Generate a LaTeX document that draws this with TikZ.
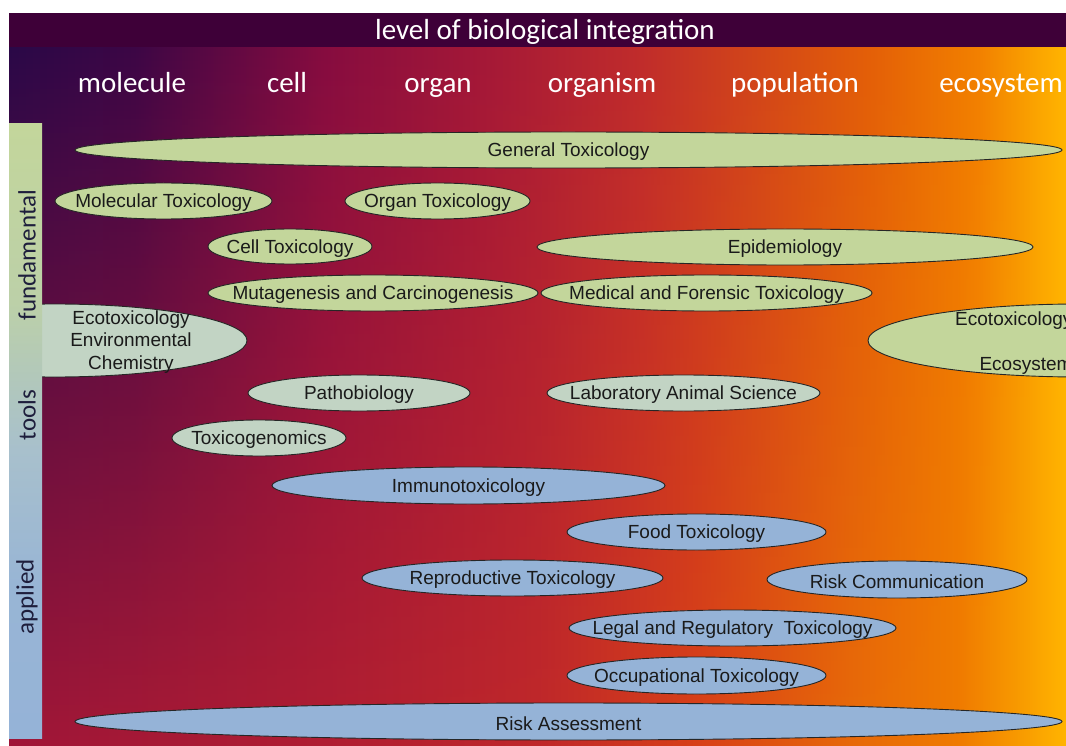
\documentclass[tikz,border=0pt]{standalone}
\usepackage{fontspec}
\setmainfont{Liberation Sans}
\newfontfamily\hdrfont{Carlito}
\usetikzlibrary{shapes.geometric,fadings}

\definecolor{bandpurple}{HTML}{3E0038}
\definecolor{fundgreen}{HTML}{C3D69B}
\definecolor{toolgray}{HTML}{C2D4C4}
\definecolor{applblue}{HTML}{95B3D7}
\definecolor{txtdark}{HTML}{1A1A1A}
\definecolor{sidetext}{HTML}{1E1E3C}
% top row of the background
\definecolor{tA}{HTML}{2A0848}
\definecolor{tB}{HTML}{3C0646}
\definecolor{tC}{HTML}{860C40}
\definecolor{tD}{HTML}{A41838}
\definecolor{tE}{HTML}{C02C2C}
\definecolor{tF}{HTML}{D44818}
\definecolor{tG}{HTML}{E46008}
\definecolor{tH}{HTML}{F28000}
\definecolor{tI}{HTML}{F89A00}
\definecolor{tJ}{HTML}{FFB400}
% bottom row of the background
\definecolor{bA}{HTML}{A01638}
\definecolor{bB}{HTML}{B01E32}
\definecolor{bC}{HTML}{C0282A}
\definecolor{bD}{HTML}{D84018}
\definecolor{bE}{HTML}{E86A08}
\definecolor{bF}{HTML}{F07C00}
\definecolor{bG}{HTML}{F89800}
\definecolor{bH}{HTML}{FFB400}
% side bar
\definecolor{sA}{HTML}{95B3D7}
\definecolor{sB}{HTML}{98B5D5}
\definecolor{sC}{HTML}{A8C0CC}
\definecolor{sD}{HTML}{BCD0A8}

% the path is fitted to 25bp..75bp of a shading
\pgfdeclarehorizontalshading{toprow}{100bp}{color(0bp)=(tA); color(25bp)=(tA);
  color(31bp)=(tB); color(40bp)=(tC); color(47.5bp)=(tD); color(55bp)=(tE);
  color(61bp)=(tF); color(66bp)=(tG); color(71bp)=(tH); color(73bp)=(tI);
  color(75bp)=(tJ); color(100bp)=(tJ)}
\pgfdeclarehorizontalshading{botrow}{100bp}{color(0bp)=(bA); color(25bp)=(bA);
  color(40bp)=(bB); color(50bp)=(bC); color(57.5bp)=(bD); color(65bp)=(bE);
  color(70bp)=(bF); color(72.5bp)=(bG); color(75bp)=(bH); color(100bp)=(bH)}
\pgfdeclareverticalshading{barshade}{100bp}{color(0bp)=(sA); color(25bp)=(sA);
  color(37.5bp)=(sB); color(48.5bp)=(sC); color(60.5bp)=(sD);
  color(75bp)=(fundgreen); color(100bp)=(fundgreen)}
\tikzfading[name=fadedown, top color=transparent!0, bottom color=transparent!100]

\begin{document}
\begin{tikzpicture}[x=1pt,y=-1pt,
	tox/.style={ellipse, draw=black!85, line width=0.9pt, inner sep=0pt},
	fund/.style={tox, fill=fundgreen},
	toolbox/.style={tox, fill=toolgray},
	appl/.style={tox, fill=applblue},
	boxtext/.style={font=\fontsize{19}{22.5}\selectfont, text=txtdark, yshift=-2pt},
	lvl/.style={font=\hdrfont\fontsize{29}{31}\selectfont, text=white, text height=0.72em, text depth=0.2em},
	sidelabel/.style={font=\hdrfont\fontsize{25}{27}\selectfont, text=sidetext, rotate=90}]
	\useasboundingbox (0,0) rectangle (1066,746);
	\fill[white] (0,0) rectangle (1066,746);
	\clip (9,13) rectangle (1066,746);
	% background
	\shade[shading=botrow] (9,47) rectangle (1066,746);
	\shade[shading=toprow, path fading=fadedown] (9,47) rectangle (1066,746);
	\fill[bandpurple] (9,13) rectangle (1066,47);
	\node[lvl] (title) at (545,37) {level of biological integration};
	% levels
	\node[lvl] (molecule) at (132,90) {molecule};
	\node[lvl] (cell) at (287,90) {cell};
	\node[lvl] (organ) at (438,90) {organ};
	\node[lvl] (organism) at (602,90) {organism};
	\node[lvl] (population) at (795,90) {population};
	\node[lvl] (ecosystem) at (1001,90) {ecosystem};
	% fundamental
	\node[fund, minimum width=987, minimum height=36, label={[boxtext]center:General Toxicology}] (gentox) at (568.5,150) {};
	\node[fund, minimum width=217, minimum height=36, label={[boxtext]center:Molecular Toxicology}] (moltox) at (163.5,201) {};
	\node[fund, minimum width=185, minimum height=36, label={[boxtext]center:Organ Toxicology}] (orgtox) at (437.5,201) {};
	\node[fund, minimum width=164, minimum height=35, label={[boxtext]center:Cell Toxicology}] (celltox) at (290,246.5) {};
	\node[fund, minimum width=496, minimum height=36, label={[boxtext]center:Epidemiology}] (epidem) at (785,247) {};
	\node[fund, minimum width=330, minimum height=36, label={[boxtext]center:Mutagenesis and Carcinogenesis}] (mutagen) at (373,293) {};
	\node[fund, minimum width=331, minimum height=36, label={[boxtext]center:Medical and Forensic Toxicology}] (medtox) at (706.5,293) {};
	\node[fund, minimum width=424, minimum height=73] (ecoright) at (1080,340.5) {};
	\node[boxtext, align=right, anchor=east] (ecorighttext) at (1076,341) {Ecotoxicology\\[22.5pt]Ecosystem};
	% tools
	\node[toolbox, minimum width=384, minimum height=73] (ecoleft) at (55,340.5) {};
	\node[boxtext, align=center] (eclefttext) at (131,340) {Ecotoxicology\\Environmental\\Chemistry};
	\node[toolbox, minimum width=222, minimum height=36, label={[boxtext]center:Pathobiology}] (patho) at (359,393) {};
	\node[toolbox, minimum width=273, minimum height=36, label={[boxtext]center:Laboratory Animal Science}] (labanimal) at (683.5,393) {};
	\node[toolbox, minimum width=174, minimum height=36, label={[boxtext]center:Toxicogenomics}] (toxgen) at (259,438) {};
	% applied
	\node[appl, minimum width=393, minimum height=37, label={[boxtext]center:Immunotoxicology}] (immuno) at (468.5,485.5) {};
	\node[appl, minimum width=259, minimum height=36, label={[boxtext]center:Food Toxicology}] (foodtox) at (696.5,532) {};
	\node[appl, minimum width=301, minimum height=36, label={[boxtext]center:Reproductive Toxicology}] (reprotox) at (512.5,578) {};
	\node[appl, minimum width=260, minimum height=37, label={[boxtext]center:Risk Communication}] (riskcom) at (897,579.5) {};
	\node[appl, minimum width=327, minimum height=36, label={[boxtext]center:Legal and Regulatory\ \ Toxicology}] (legaltox) at (732.5,628) {};
	\node[appl, minimum width=259, minimum height=37, label={[boxtext]center:Occupational Toxicology}] (occtox) at (696.5,675.5) {};
	\node[appl, minimum width=987, minimum height=37, label={[boxtext]center:Risk Assessment}] (riskass) at (568.5,721.5) {};
	% side bar
	\shade[shading=barshade] (9,124) rectangle (42,738);
	\node[sidelabel] (fundamental) at (27,255) {fundamental};
	\node[sidelabel] (tools) at (27,415) {tools};
	\node[sidelabel] (applied) at (27,597) {applied};
\end{tikzpicture}
\end{document}
